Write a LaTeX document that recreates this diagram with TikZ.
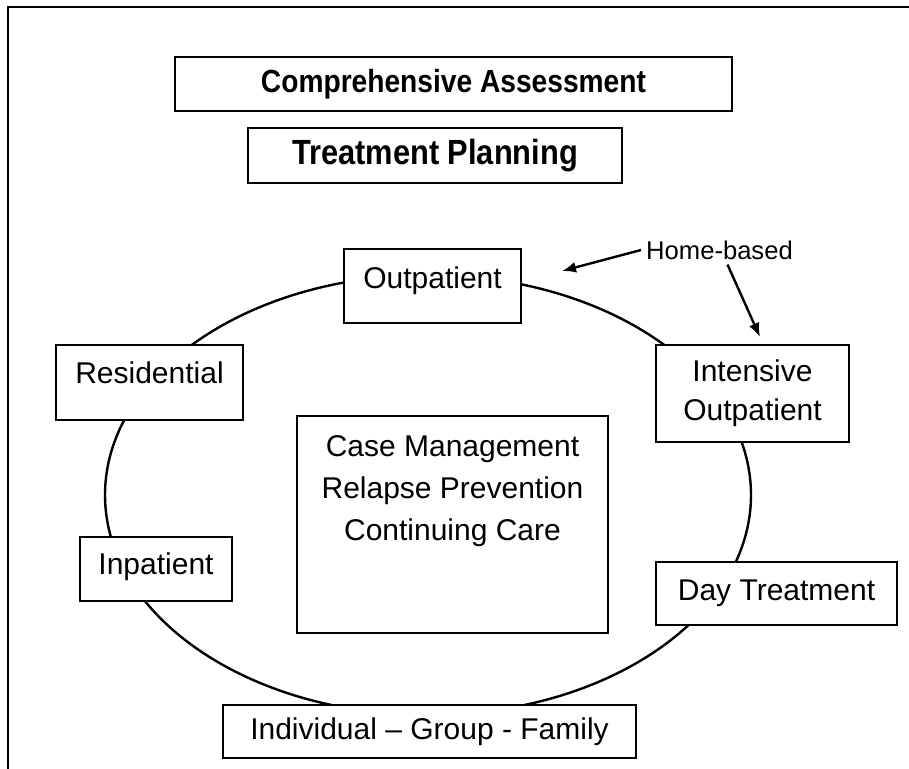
\documentclass[tikz,border=0pt]{standalone}
\usepackage{fontspec}
\setmainfont{Liberation Sans}
\newfontfamily\headfont[FakeStretch=0.88]{Liberation Sans}
\usetikzlibrary{arrows.meta}

\begin{document}
\begin{tikzpicture}[x=0.5pt,y=-0.5pt,line width=1.2pt,
  every node/.style={font=\fontsize{15}{19.5}\selectfont},
  box/.style={draw,fill=white,line width=1.2pt,inner sep=0pt,align=center},
  headbox/.style={box,font=\headfont\bfseries\fontsize{#1}{19}\selectfont},
  pointer/.style={-{Latex[length=7pt,width=5.5pt]},line width=1.2pt}]
  \useasboundingbox (0,0) rectangle (909,769);

  % Frame (open at right and bottom)
  \draw (8,769) -- (8,7) -- (909,7);

  % Heading boxes
  \node[headbox=16,minimum width=278.5pt,minimum height=27pt] (assess) at (453.5,84) {Comprehensive Assessment};
  \node[headbox=17.5,minimum width=187pt,minimum height=27.5pt] (plan) at (435,155.5) {Treatment Planning};

  % Cycle of care
  \draw (428,495) ellipse [x radius=323,y radius=220];

  % Levels of care on the cycle
  \node[box,minimum width=88.5pt,minimum height=37pt,text height=11pt,text depth=8.2pt] (outpt) at (432.5,286) {Outpatient};
  \node[box,minimum width=93.5pt,minimum height=37.5pt,text height=11pt,text depth=9.7pt] (resid) at (149.5,382.5) {Residential};
  \node[box,minimum width=96.5pt,minimum height=48.5pt] (intens) at (752.5,393.5) {Intensive\\Outpatient};
  \node[box,minimum width=76pt,minimum height=32pt,text height=11pt,text depth=5.2pt] (inpt) at (156,569) {Inpatient};
  \node[box,minimum width=120.5pt,minimum height=31.5pt,text height=11pt,text depth=3.7pt] (daytx) at (776.5,593.5) {Day Treatment};
  \node[box,minimum width=206.5pt,minimum height=26.5pt] (modes) at (429.5,731.5) {Individual – Group - Family};

  % Services in the middle
  \node[box,minimum width=155.5pt,minimum height=108.5pt,text height=53pt,text depth=36.7pt,
    font=\fontsize{15}{21}\selectfont] (core) at (452.5,524.5) {Case Management\\Relapse Prevention\\Continuing Care};

  % Home-based pointers
  \node[font=\fontsize{12.8}{15}\selectfont,inner sep=2pt] (home) at (719.5,250) {Home-based};
  \coordinate (homeL) at (562,271);
  \coordinate (homeR) at (760,337);
  \draw[pointer] (home.west) -- (homeL);
  \draw[pointer] ([xshift=4pt]home.south) -- (homeR);
\end{tikzpicture}
\end{document}
